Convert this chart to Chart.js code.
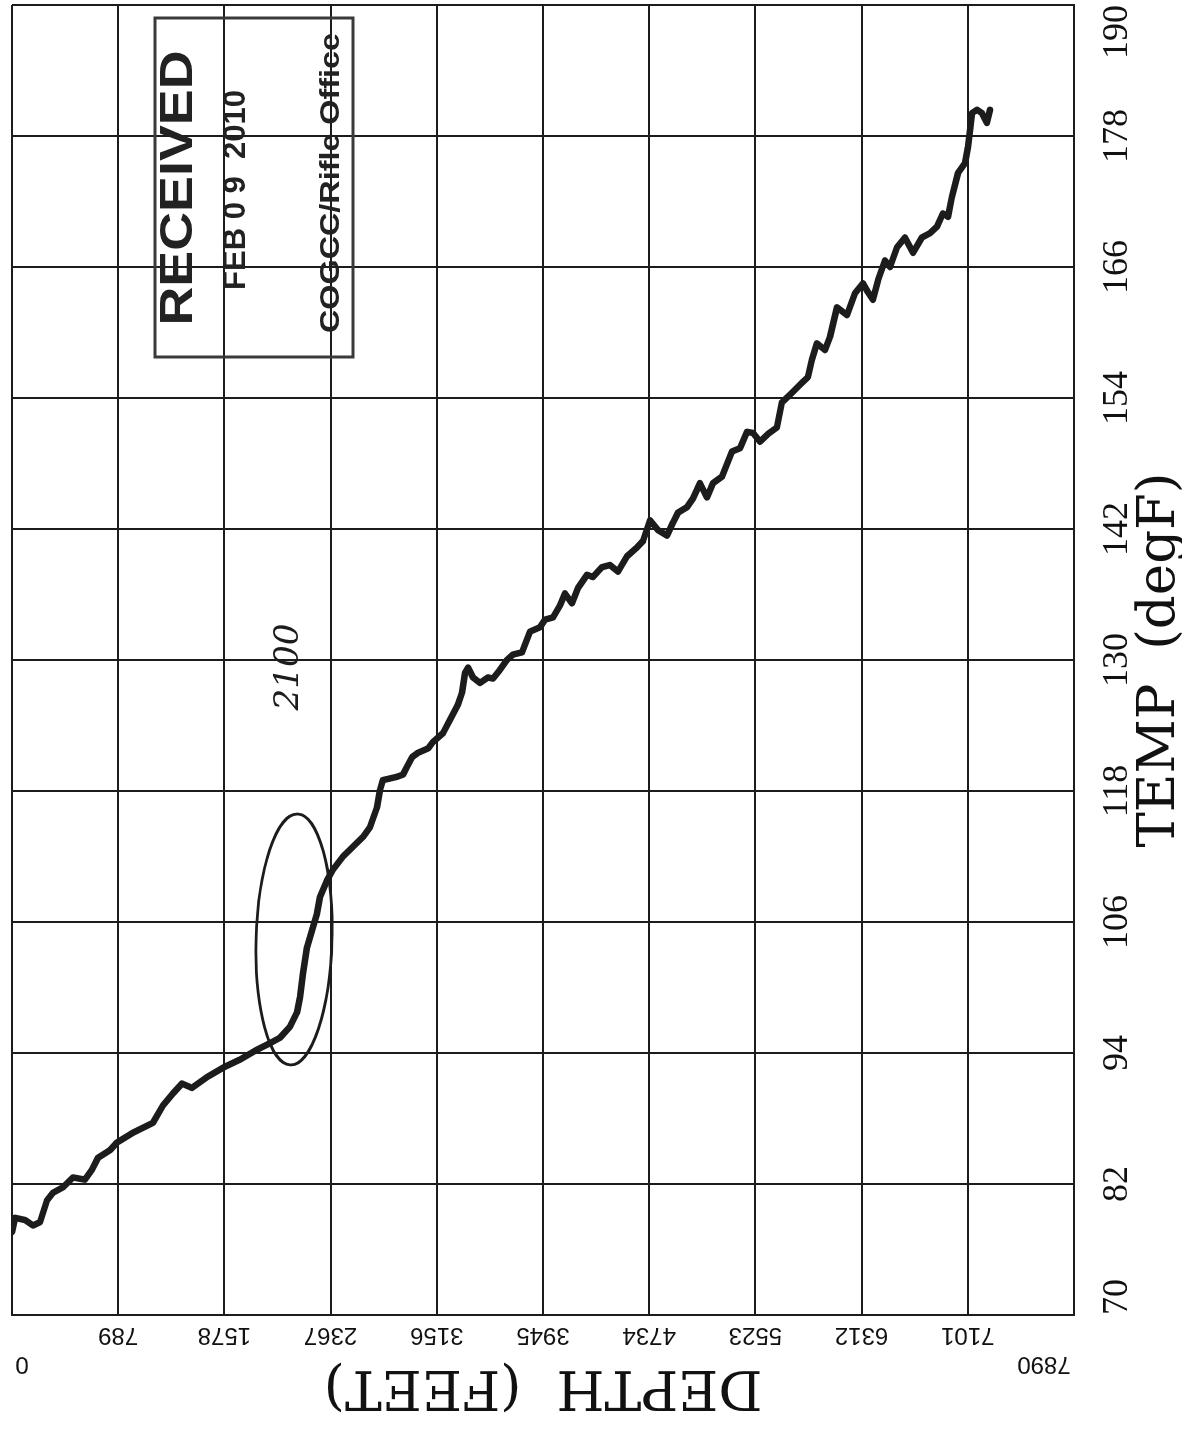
<!DOCTYPE html>
<html>
<head>
<meta charset="utf-8">
<title>TEMP vs DEPTH</title>
<script src="https://cdn.jsdelivr.net/npm/chart.js@4.4.1/dist/chart.umd.min.js"></script>
<style>
  html, body { margin: 0; padding: 0; background: #fff; }
  #page { position: relative; width: 1182px; height: 1429px; overflow: hidden; background: #fff; }
  /* the log is plotted upright and then turned a quarter turn, like the scanned sheet */
  #log { position: absolute; left: 0; top: 0; transform-origin: 0 0; transform: translate(0, 1429px) rotate(-90deg); }
</style>
</head>
<body>
<div id="page"><canvas id="log" width="1429" height="1182"></canvas></div>
<script>
// depth (ft) and temperature (degF)
var depthFt = [
    0, 22, 97, 156, 208, 260, 305, 379, 453, 542,
    594, 639, 728, 780, 899, 1047, 1122, 1196, 1263, 1337,
    1449, 1575, 1694, 1820, 1917, 1991, 2065, 2117, 2140, 2162,
    2192, 2236, 2266, 2288, 2340, 2385, 2459, 2533, 2608, 2660,
    2712, 2734, 2756, 2860, 2905, 2934, 2972, 3016, 3091, 3128,
    3202, 3254, 3313, 3343, 3365, 3388, 3425, 3477, 3536, 3573,
    3625, 3677, 3722, 3789, 3848, 3923, 3960, 4019, 4071, 4108,
    4160, 4205, 4272, 4316, 4383, 4442, 4502, 4569, 4643, 4688,
    4740, 4799, 4866, 4911, 4948, 5015, 5059, 5111, 5163, 5208,
    5275, 5349, 5408, 5460, 5505, 5557, 5616, 5683, 5720, 5780,
    5869, 5913, 5943, 5980, 6040, 6077, 6129, 6203, 6263, 6322,
    6359, 6396, 6434, 6486, 6523, 6575, 6634, 6694, 6760, 6820,
    6872, 6916, 6954, 6983, 7028, 7080, 7102, 7117, 7132, 7169,
    7206, 7243, 7266
];
var tempF = [
    77.6, 78.9, 78.7, 78.2, 78.5, 80.5, 81.2, 81.7, 82.6, 82.4,
    83.3, 84.4, 85.1, 85.8, 86.7, 87.6, 89.2, 90.3, 91.2, 90.8,
    91.8, 92.7, 93.4, 94.3, 94.9, 95.4, 96.4, 97.7, 99.1, 101.3,
    103.7, 105.5, 106.8, 108.3, 109.8, 110.8, 112.0, 112.9, 113.8, 114.7,
    116.5, 118.1, 119.0, 119.3, 119.5, 120.2, 121.1, 121.5, 121.9, 122.5,
    123.3, 124.5, 125.9, 127.0, 128.8, 129.3, 128.4, 127.9, 128.4, 128.3,
    129.1, 130.0, 130.5, 130.7, 132.6, 133.0, 133.7, 133.9, 135.0, 136.1,
    135.2, 136.6, 137.8, 137.6, 138.5, 138.7, 138.1, 139.5, 140.3, 140.9,
    142.8, 141.9, 141.4, 142.6, 143.5, 144.0, 144.8, 146.2, 144.9, 146.2,
    146.8, 149.1, 149.4, 150.9, 150.8, 150.0, 150.7, 151.3, 153.6, 154.3,
    155.4, 155.9, 157.5, 159.0, 158.4, 159.6, 162.3, 161.6, 163.6, 164.5,
    163.7, 163.0, 164.8, 166.6, 166.0, 167.8, 168.7, 167.3, 168.7, 169.1,
    169.7, 170.9, 170.6, 172.4, 174.6, 175.5, 177.0, 178.5, 180.1, 180.4,
    180.1, 179.2, 180.4
];

var tempTicks = [70, 82, 94, 106, 118, 130, 142, 154, 166, 178, 190];
var depthTicks = [0, 789, 1578, 2367, 3156, 3945, 4734, 5523, 6312, 7101, 7890];

var ink = '#1c1c1c';

// draws text squeezed/stretched to a given width, centred on (cx, cy)
function fitText(c, txt, cx, cy, w) {
    var m = c.measureText(txt).width;
    c.save();
    c.translate(cx, cy);
    c.scale(w / m, 1);
    c.fillText(txt, 0, 0);
    c.restore();
}

// the end depth labels sit inside the span and drop away from the axis
function depthLabel(v, i) {
    if (i === 0) return [String(v) + '   ', '', ''];
    if (i === depthTicks.length - 1) return ['         ' + String(v), '', ''];
    return String(v);
}

// stamp, circled zone and hand note
var notes = {
    id: 'notes',
    afterDatasetsDraw: function (chart) {
        var c = chart.ctx;
        var sx = chart.scales.x, sy = chart.scales.y;

        // ellipse around the step near 2100 ft
        var cx = sx.getPixelForValue(104.4), cy = sy.getPixelForValue(2095);
        var rx = sx.getPixelForValue(115.9) - cx, ry = sy.getPixelForValue(2377) - cy;
        c.save();
        c.strokeStyle = ink;
        c.lineWidth = 2.8;
        c.beginPath();
        c.ellipse(cx, cy, rx, ry, 0.028, 0, Math.PI * 2);
        c.stroke();

        c.fillStyle = ink;
        c.textAlign = 'center';
        c.textBaseline = 'middle';
        c.font = 'italic 34px "DejaVu Serif"';
        fitText(c, '2100', 762, 289, 87);

        // RECEIVED stamp
        c.strokeStyle = '#3a3a3a';
        c.lineWidth = 3;
        c.strokeRect(1072, 155, 339, 198);
        c.fillStyle = '#222';
        c.font = 'bold 47px "Liberation Sans"';
        fitText(c, 'RECEIVED', 1241, 179, 275);
        c.font = 'bold 32px "Liberation Sans"';
        fitText(c, 'FEB 0 9  2010', 1239, 236, 200);
        c.font = 'bold 28px "Liberation Sans"';
        fitText(c, 'COGCC/Rifle Office', 1246, 331, 300);
        c.restore();
    }
};

var ctx = document.getElementById('log').getContext('2d');
var chart = new Chart(ctx, {
    type: 'line',
    data: {
        datasets: [{
            data: depthFt.map(function (d, i) { return { x: tempF[i], y: d }; }),
            borderColor: ink,
            borderWidth: 6.5,
            borderJoinStyle: 'round',
            borderCapStyle: 'round',
            pointRadius: 0,
            tension: 0,
            fill: false
        }]
    },
    options: {
        responsive: false,
        animation: false,
        devicePixelRatio: 1,
        layout: { autoPadding: false, padding: { top: 12, right: 5, left: 0, bottom: 0 } },
        plugins: { legend: { display: false }, tooltip: { enabled: false } },
        scales: {
            x: {
                type: 'linear',
                position: 'bottom',
                min: 70,
                max: 190,
                afterBuildTicks: function (s) { s.ticks = tempTicks.map(function (v) { return { value: v }; }); },
                afterFit: function (s) { s.height = 108; s.paddingLeft = 0; s.paddingRight = 0; },
                grid: { color: ink, lineWidth: 2, drawTicks: false },
                border: { color: ink, width: 2 },
                ticks: {
                    autoSkip: false, minRotation: 0, maxRotation: 0, align: 'inner', padding: 22,
                    color: '#111', font: { family: '"Liberation Serif"', size: 36 },
                    callback: function (v) { return String(v); }
                },
                title: {
                    display: true, text: 'TEMP  (degF)', color: '#111',
                    font: { family: '"DejaVu Serif"', size: 53, lineHeight: 1 },
                    padding: { top: 0, bottom: -5 }
                }
            },
            y: {
                type: 'linear',
                position: 'left',
                reverse: true,
                min: 0,
                max: 7890,
                afterBuildTicks: function (s) { s.ticks = depthTicks.map(function (v) { return { value: v }; }); },
                afterFit: function (s) { s.width = 114; s.paddingTop = 0; s.paddingBottom = 0; },
                grid: { color: ink, lineWidth: 2, drawTicks: false },
                border: { color: ink, width: 2 },
                ticks: {
                    autoSkip: false, minRotation: 90, maxRotation: 90, crossAlign: 'center', padding: -37,
                    color: '#111', font: { family: '"Liberation Sans"', size: 24 },
                    callback: depthLabel
                },
                title: {
                    display: true, text: 'DEPTH  (FEET)', color: '#111',
                    font: { family: '"DejaVu Serif"', size: 55, lineHeight: 1 },
                    padding: { top: 16, bottom: 0 }
                }
            }
        }
    },
    plugins: [notes]
});
</script>
</body>
</html>
